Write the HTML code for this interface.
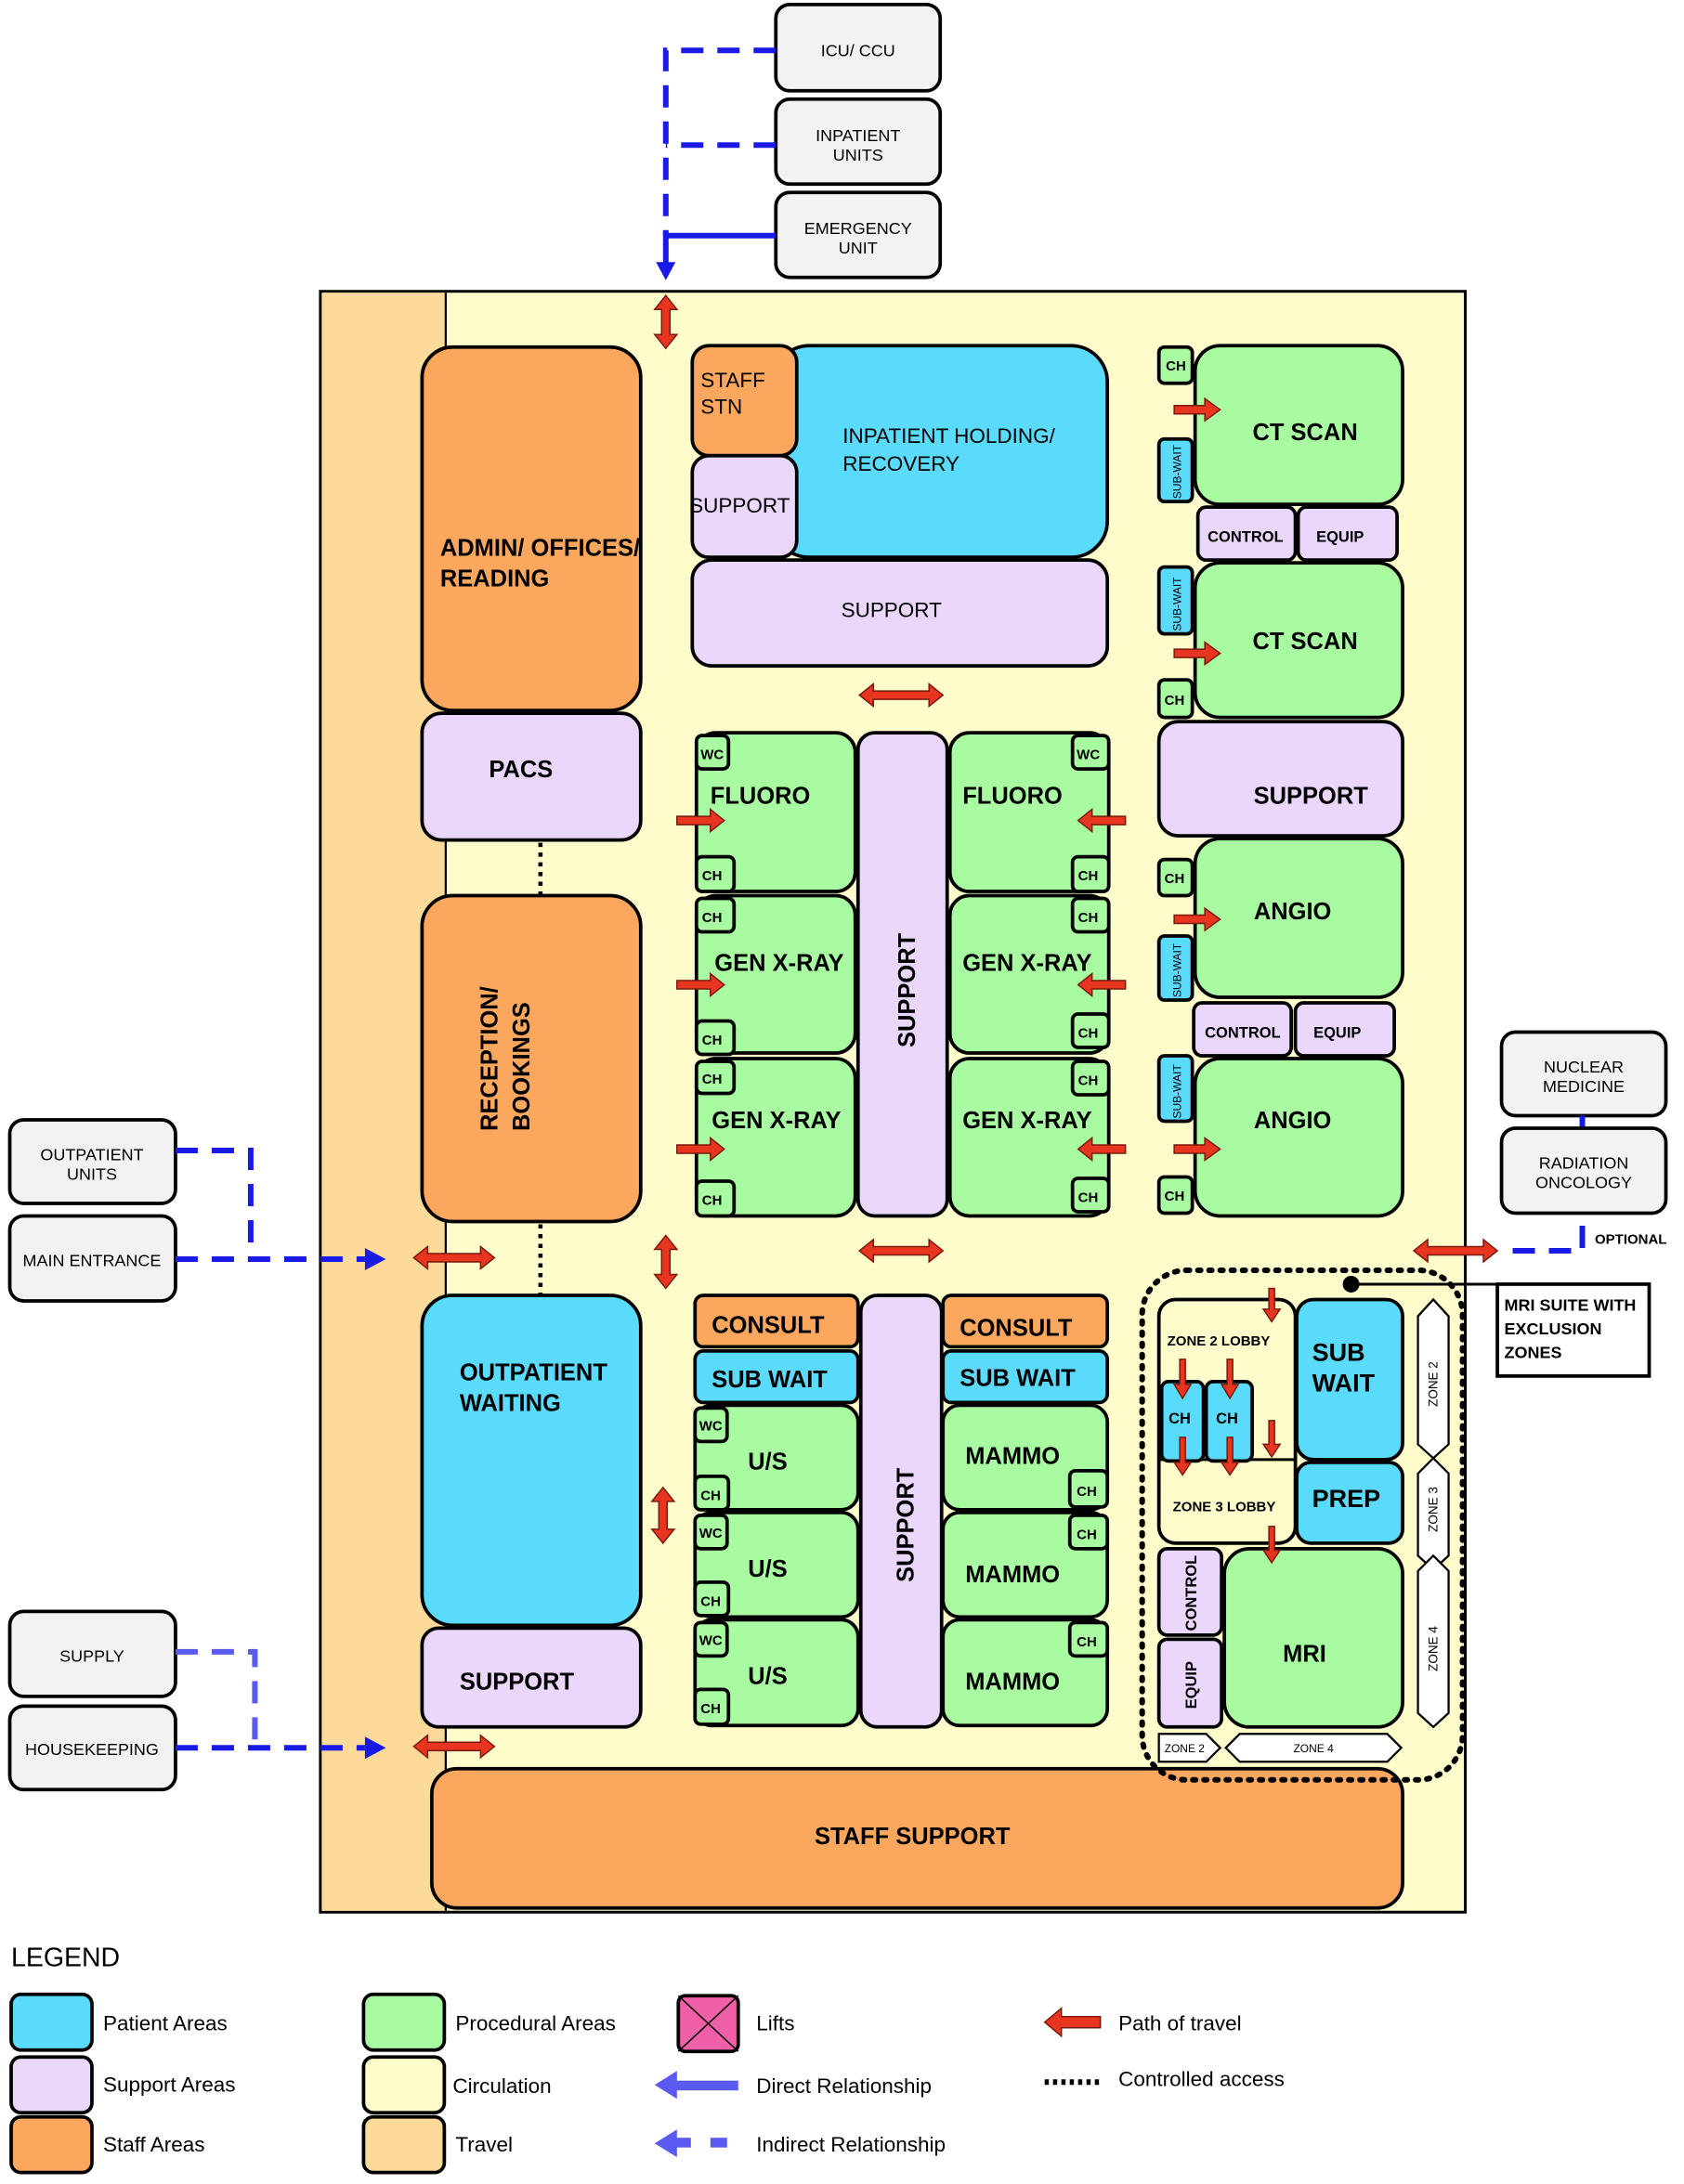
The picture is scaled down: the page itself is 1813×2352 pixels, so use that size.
<!DOCTYPE html>
<html><head><meta charset="utf-8"><style>
html,body{margin:0;padding:0;background:#fff}
svg{display:block}
text{font-family:"Liberation Sans",sans-serif;fill:#000}
.b{font-weight:bold}
.o{fill:#fba85e;stroke:#000;stroke-width:2.5}
.p{fill:#5bdbfb;stroke:#000;stroke-width:2.5}
.s{fill:#ead7fb;stroke:#000;stroke-width:2.5}
.g{fill:#a9fba2;stroke:#000;stroke-width:2.5}
.c{fill:#fefccb;stroke:#000;stroke-width:2.5}
.t{fill:#fcda9a;stroke:#000;stroke-width:2.5}
.e{fill:#f2f2f2;stroke:#000;stroke-width:2.5}
.w{fill:#fff;stroke:#000;stroke-width:1.5}
.r{fill:#e8351f;stroke:#7a1a0c;stroke-width:1}
.bl{stroke:#1a1ae6;stroke-width:4;fill:none}
.da{stroke-dasharray:16 10}
</style></head><body>
<svg width="1813" height="2352" viewBox="0 0 1209 1568" xmlns="http://www.w3.org/2000/svg">
<!-- top external -->
<rect class="e" x="557" y="3" width="118" height="62" rx="10"/>
<text x="616" y="40" font-size="12" text-anchor="middle">ICU/ CCU</text>
<rect class="e" x="557" y="71" width="118" height="61" rx="10"/>
<text x="616" y="101" font-size="12" text-anchor="middle">INPATIENT</text><text x="616" y="115" font-size="12" text-anchor="middle">UNITS</text>
<rect class="e" x="557" y="138" width="118" height="61" rx="10"/>
<text x="616" y="168" font-size="12" text-anchor="middle">EMERGENCY</text><text x="616" y="182" font-size="12" text-anchor="middle">UNIT</text>
<path class="bl da" d="M557 36 H478 V169"/>
<path class="bl da" d="M557 104 H478"/>
<path class="bl" d="M557 169 H478 V190"/>
<polygon points="471,188 485,188 478,201" fill="#1a1ae6"/>

<!-- frame -->
<rect x="230" y="209" width="822" height="1164" fill="#fefccb" stroke="#000" stroke-width="2"/>
<rect x="231" y="210" width="89" height="1162" fill="#fcda9a"/>
<line x1="320" y1="210" x2="320" y2="1372" stroke="#000" stroke-width="1.5"/>

<!-- left column -->
<rect class="o" x="303" y="249" width="157" height="261" rx="22"/>
<text class="b" x="316" y="399" font-size="17">ADMIN/ OFFICES/</text><text class="b" x="316" y="421" font-size="17">READING</text>
<rect class="s" x="303" y="512" width="157" height="91" rx="14"/>
<text class="b" x="374" y="558" font-size="17" text-anchor="middle">PACS</text>
<line x1="388" y1="605" x2="388" y2="643" stroke="#000" stroke-width="3" stroke-dasharray="3 4"/>
<rect class="o" x="303" y="643" width="157" height="234" rx="22"/>
<text class="b" font-size="17" transform="translate(357,812) rotate(-90)">RECEPTION/</text>
<text class="b" font-size="17" transform="translate(380,812) rotate(-90)">BOOKINGS</text>
<line x1="388" y1="879" x2="388" y2="930" stroke="#000" stroke-width="3" stroke-dasharray="3 4"/>
<rect class="p" x="303" y="930" width="157" height="237" rx="22"/>
<text class="b" x="330" y="991" font-size="17">OUTPATIENT</text><text class="b" x="330" y="1013" font-size="17">WAITING</text>
<rect class="s" x="303" y="1169" width="157" height="71" rx="12"/>
<text class="b" x="330" y="1213" font-size="17">SUPPORT</text>
<rect class="o" x="310" y="1270" width="697" height="100" rx="18"/>
<text class="b" x="655" y="1324" font-size="17" text-anchor="middle">STAFF SUPPORT</text>

<!-- inpatient holding -->
<rect class="p" x="555" y="248" width="240" height="152" rx="26"/>
<text x="605" y="318" font-size="15">INPATIENT HOLDING/</text><text x="605" y="338" font-size="15">RECOVERY</text>
<rect class="o" x="497" y="248" width="75" height="79" rx="12"/>
<text x="503" y="278" font-size="15">STAFF</text><text x="503" y="297" font-size="15">STN</text>
<rect class="s" x="497" y="327" width="75" height="73" rx="12"/>
<text x="531" y="368" font-size="15" text-anchor="middle">SUPPORT</text>
<rect class="s" x="497" y="402" width="298" height="76" rx="14"/>
<text x="640" y="443" font-size="15" text-anchor="middle">SUPPORT</text>

<!-- middle procedural -->
<rect class="s" x="616" y="526" width="64" height="347" rx="12"/>
<text class="b" font-size="17" transform="translate(657,752) rotate(-90)">SUPPORT</text>
<rect class="g" x="500" y="526" width="114" height="114" rx="14"/><text class="b" x="510" y="577" font-size="17">FLUORO</text>
<rect class="g" x="500" y="643" width="114" height="113" rx="14"/><text class="b" x="513" y="697" font-size="17">GEN X-RAY</text>
<rect class="g" x="500" y="760" width="114" height="113" rx="14"/><text class="b" x="511" y="810" font-size="17">GEN X-RAY</text>
<rect class="g" x="682" y="526" width="114" height="114" rx="14"/><text class="b" x="691" y="577" font-size="17">FLUORO</text>
<rect class="g" x="682" y="643" width="114" height="113" rx="14"/><text class="b" x="691" y="697" font-size="17">GEN X-RAY</text>
<rect class="g" x="682" y="760" width="114" height="113" rx="14"/><text class="b" x="691" y="810" font-size="17">GEN X-RAY</text>
<g font-size="10" class="b">
<rect class="g" x="500" y="528" width="23" height="24" rx="4"/><text x="503" y="545" font-size="10">WC</text>
<rect class="g" x="500" y="615" width="27" height="25" rx="4"/><text x="504" y="632" font-size="10">CH</text>
<rect class="g" x="500" y="645" width="27" height="24" rx="4"/><text x="504" y="662" font-size="10">CH</text>
<rect class="g" x="500" y="733" width="27" height="24" rx="4"/><text x="504" y="750" font-size="10">CH</text>
<rect class="g" x="500" y="762" width="27" height="23" rx="4"/><text x="504" y="778" font-size="10">CH</text>
<rect class="g" x="500" y="848" width="27" height="25" rx="4"/><text x="504" y="865" font-size="10">CH</text>
<rect class="g" x="770" y="528" width="26" height="24" rx="4"/><text x="773" y="545" font-size="10">WC</text>
<rect class="g" x="770" y="615" width="26" height="25" rx="4"/><text x="774" y="632" font-size="10">CH</text>
<rect class="g" x="770" y="645" width="26" height="24" rx="4"/><text x="774" y="662" font-size="10">CH</text>
<rect class="g" x="770" y="728" width="26" height="24" rx="4"/><text x="774" y="745" font-size="10">CH</text>
<rect class="g" x="770" y="762" width="26" height="24" rx="4"/><text x="774" y="779" font-size="10">CH</text>
<rect class="g" x="770" y="846" width="26" height="24" rx="4"/><text x="774" y="863" font-size="10">CH</text>
</g>

<!-- bottom middle -->
<rect class="s" x="618" y="930" width="58" height="310" rx="12"/>
<text class="b" font-size="17" transform="translate(656,1136) rotate(-90)">SUPPORT</text>
<rect class="o" x="499" y="930" width="117" height="37" rx="6"/><text class="b" x="511" y="957" font-size="17">CONSULT</text>
<rect class="p" x="499" y="970" width="117" height="37" rx="6"/><text class="b" x="511" y="996" font-size="17">SUB WAIT</text>
<rect class="o" x="677" y="930" width="118" height="37" rx="6"/><text class="b" x="689" y="959" font-size="17">CONSULT</text>
<rect class="p" x="677" y="970" width="118" height="37" rx="6"/><text class="b" x="689" y="995" font-size="17">SUB WAIT</text>
<rect class="g" x="499" y="1009" width="117" height="75" rx="12"/><text class="b" x="537" y="1055" font-size="17">U/S</text>
<rect class="g" x="499" y="1086" width="117" height="75" rx="12"/><text class="b" x="537" y="1132" font-size="17">U/S</text>
<rect class="g" x="499" y="1163" width="117" height="76" rx="12"/><text class="b" x="537" y="1209" font-size="17">U/S</text>
<rect class="g" x="677" y="1009" width="118" height="75" rx="12"/><text class="b" x="693" y="1051" font-size="17">MAMMO</text>
<rect class="g" x="677" y="1086" width="118" height="75" rx="12"/><text class="b" x="693" y="1136" font-size="17">MAMMO</text>
<rect class="g" x="677" y="1163" width="118" height="76" rx="12"/><text class="b" x="693" y="1213" font-size="17">MAMMO</text>
<g class="b">
<rect class="g" x="499" y="1011" width="23" height="24" rx="4"/><text x="502" y="1027" font-size="10">WC</text>
<rect class="g" x="499" y="1060" width="24" height="24" rx="4"/><text x="503" y="1077" font-size="10">CH</text>
<rect class="g" x="499" y="1088" width="23" height="24" rx="4"/><text x="502" y="1104" font-size="10">WC</text>
<rect class="g" x="499" y="1136" width="24" height="24" rx="4"/><text x="503" y="1153" font-size="10">CH</text>
<rect class="g" x="499" y="1165" width="23" height="24" rx="4"/><text x="502" y="1181" font-size="10">WC</text>
<rect class="g" x="499" y="1213" width="24" height="25" rx="4"/><text x="503" y="1230" font-size="10">CH</text>
<rect class="g" x="768" y="1056" width="27" height="26" rx="4"/><text x="773" y="1074" font-size="10">CH</text>
<rect class="g" x="768" y="1088" width="27" height="24" rx="4"/><text x="773" y="1105" font-size="10">CH</text>
<rect class="g" x="768" y="1165" width="27" height="24" rx="4"/><text x="773" y="1182" font-size="10">CH</text>
</g>

<!-- right column -->
<rect class="g" x="858" y="248" width="149" height="114" rx="18"/><text class="b" x="937" y="316" font-size="17" text-anchor="middle">CT SCAN</text>
<rect class="g" x="832" y="249" width="24" height="26" rx="4"/><text class="b" x="837" y="266" font-size="10">CH</text>
<rect class="p" x="832" y="315" width="24" height="45" rx="4"/><text font-size="8" transform="translate(848,358) rotate(-90)">SUB-WAIT</text>
<rect class="s" x="860" y="364" width="70" height="38" rx="6"/><text class="b" x="867" y="389" font-size="11">CONTROL</text>
<rect class="s" x="932" y="364" width="71" height="38" rx="6"/><text class="b" x="945" y="389" font-size="11">EQUIP</text>
<rect class="g" x="858" y="404" width="149" height="111" rx="18"/><text class="b" x="937" y="466" font-size="17" text-anchor="middle">CT SCAN</text>
<rect class="p" x="832" y="407" width="24" height="48" rx="4"/><text font-size="8" transform="translate(848,453) rotate(-90)">SUB-WAIT</text>
<rect class="g" x="832" y="488" width="24" height="27" rx="4"/><text class="b" x="836" y="506" font-size="10">CH</text>
<rect class="s" x="832" y="518" width="175" height="82" rx="14"/><text class="b" x="900" y="577" font-size="17">SUPPORT</text>
<rect class="g" x="858" y="602" width="149" height="114" rx="18"/><text class="b" x="928" y="660" font-size="17" text-anchor="middle">ANGIO</text>
<rect class="g" x="832" y="617" width="24" height="26" rx="4"/><text class="b" x="836" y="634" font-size="10">CH</text>
<rect class="p" x="832" y="672" width="24" height="46" rx="4"/><text font-size="8" transform="translate(848,716) rotate(-90)">SUB-WAIT</text>
<rect class="s" x="857" y="720" width="70" height="38" rx="6"/><text class="b" x="865" y="745" font-size="11">CONTROL</text>
<rect class="s" x="930" y="720" width="71" height="38" rx="6"/><text class="b" x="943" y="745" font-size="11">EQUIP</text>
<rect class="g" x="858" y="760" width="149" height="113" rx="18"/><text class="b" x="928" y="810" font-size="17" text-anchor="middle">ANGIO</text>
<rect class="p" x="832" y="758" width="24" height="47" rx="4"/><text font-size="8" transform="translate(848,803) rotate(-90)">SUB-WAIT</text>
<rect class="g" x="832" y="845" width="24" height="26" rx="4"/><text class="b" x="836" y="862" font-size="10">CH</text>

<!-- right external -->
<rect class="e" x="1078" y="741" width="118" height="60" rx="10"/>
<text x="1137" y="770" font-size="12" text-anchor="middle">NUCLEAR</text><text x="1137" y="784" font-size="12" text-anchor="middle">MEDICINE</text>
<line x1="1136" y1="801" x2="1136" y2="810" stroke="#1a1ae6" stroke-width="4"/>
<rect class="e" x="1078" y="810" width="118" height="61" rx="10"/>
<text x="1137" y="839" font-size="12" text-anchor="middle">RADIATION</text><text x="1137" y="853" font-size="12" text-anchor="middle">ONCOLOGY</text>
<path class="bl da" d="M1136 880 V898 H1076" stroke-dasharray="14 10"/>
<text class="b" x="1145" y="893" font-size="10">OPTIONAL</text>

<!-- MRI suite -->
<rect x="820" y="912" width="230" height="366" rx="32" fill="none" stroke="#000" stroke-width="4" stroke-dasharray="2 6" stroke-linecap="round"/>
<rect class="c" x="832" y="933" width="98" height="175" rx="12"/>
<line x1="832" y1="1048" x2="930" y2="1048" stroke="#000" stroke-width="2"/>
<text class="b" x="838" y="966" font-size="10">ZONE 2 LOBBY</text>
<text class="b" x="842" y="1085" font-size="10">ZONE 3 LOBBY</text>
<rect class="p" x="834" y="992" width="30" height="57" rx="5"/><text class="b" x="839" y="1022" font-size="11">CH</text>
<rect class="p" x="866" y="992" width="33" height="57" rx="5"/><text class="b" x="873" y="1022" font-size="11">CH</text>
<rect class="p" x="931" y="933" width="76" height="115" rx="12"/><text class="b" x="942" y="977" font-size="18">SUB</text><text class="b" x="942" y="999" font-size="18">WAIT</text>
<rect class="p" x="931" y="1050" width="76" height="58" rx="10"/><text class="b" x="942" y="1082" font-size="18">PREP</text>
<rect class="s" x="832" y="1112" width="45" height="62" rx="6"/><text class="b" font-size="11" transform="translate(859,1171) rotate(-90)">CONTROL</text>
<rect class="s" x="832" y="1177" width="45" height="63" rx="6"/><text class="b" font-size="11" transform="translate(859,1227) rotate(-90)">EQUIP</text>
<rect class="g" x="879" y="1112" width="128" height="128" rx="18"/><text class="b" x="921" y="1193" font-size="17">MRI</text>
<polygon class="w" points="1018,945 1029,933 1040,945 1040,1037 1029,1047 1018,1037"/>
<text font-size="9" transform="translate(1032,1010) rotate(-90)">ZONE 2</text>
<polygon class="w" points="1018,1058 1029,1047 1040,1058 1040,1117 1029,1127 1018,1117"/>
<text font-size="9" transform="translate(1032,1100) rotate(-90)">ZONE 3</text>
<polygon class="w" points="1018,1128 1029,1117 1040,1128 1040,1230 1029,1240 1018,1230"/>
<text font-size="9" transform="translate(1032,1200) rotate(-90)">ZONE 4</text>
<polygon class="w" points="832,1245 866,1245 876,1255 866,1265 832,1265"/>
<text x="836" y="1258" font-size="8" fill="#444">ZONE 2</text>
<polygon class="w" points="880,1255 890,1245 996,1245 1006,1255 996,1265 890,1265"/>
<text x="943" y="1258" font-size="8" text-anchor="middle" fill="#444">ZONE 4</text>
<circle cx="970" cy="922" r="6" fill="#000"/>
<line x1="970" y1="922" x2="1076" y2="922" stroke="#000" stroke-width="2"/>
<rect x="1075" y="922" width="109" height="66" fill="#fff" stroke="#000" stroke-width="2.5"/>
<text class="b" x="1080" y="941" font-size="12">MRI SUITE WITH</text><text class="b" x="1080" y="958" font-size="12">EXCLUSION</text><text class="b" x="1080" y="975" font-size="12">ZONES</text>

<!-- red arrows -->
<g class="r">
<polygon points="478,212 486,222 481,222 481,240 486,240 478,250 470,240 475,240 475,222 470,222"/>
<polygon points="478,887 486,897 481,897 481,915 486,915 478,925 470,915 475,915 475,897 470,897"/>
<polygon points="476,1068 484,1078 479,1078 479,1098 484,1098 476,1108 468,1098 473,1098 473,1078 468,1078"/>
<polygon points="617,499 627,491 627,496 667,496 667,491 677,499 667,507 667,502 627,502 627,507"/>
<polygon points="617,898 627,890 627,895 667,895 667,890 677,898 667,906 667,901 627,901 627,906"/>
<polygon points="297,903 307,895 307,900 345,900 345,895 355,903 345,911 345,906 307,906 307,911"/>
<polygon points="297,1254 307,1246 307,1251 345,1251 345,1246 355,1254 345,1262 345,1257 307,1257 307,1262"/>
<polygon points="1015,898 1025,890 1025,895 1065,895 1065,890 1075,898 1065,906 1065,901 1025,901 1025,906"/>
<polygon points="486,586 510,586 510,581 520,589 510,597 510,592 486,592"/>
<polygon points="486,704 510,704 510,699 520,707 510,715 510,710 486,710"/>
<polygon points="486,822 510,822 510,817 520,825 510,833 510,828 486,828"/>
<polygon points="808,586 784,586 784,581 774,589 784,597 784,592 808,592"/>
<polygon points="808,704 784,704 784,699 774,707 784,715 784,710 808,710"/>
<polygon points="808,822 784,822 784,817 774,825 784,833 784,828 808,828"/>
<polygon points="843,291 865,291 865,286 876,294 865,302 865,297 843,297"/>
<polygon points="843,466 865,466 865,461 876,469 865,477 865,472 843,472"/>
<polygon points="843,657 865,657 865,652 876,660 865,668 865,663 843,663"/>
<polygon points="843,822 865,822 865,817 876,825 865,833 865,828 843,828"/>
<polygon points="911,925 915,925 915,940 919,940 913,949 907,940 911,940"/>
<polygon points="847,976 851,976 851,994 855,994 849,1004 843,994 847,994"/>
<polygon points="881,976 885,976 885,994 889,994 883,1004 877,994 881,994"/>
<polygon points="847,1032 851,1032 851,1050 855,1050 849,1059 843,1050 847,1050"/>
<polygon points="881,1032 885,1032 885,1050 889,1050 883,1059 877,1050 881,1050"/>
<polygon points="911,1020 915,1020 915,1037 919,1037 913,1046 907,1037 911,1037"/>
<polygon points="911,1096 915,1096 915,1113 919,1113 913,1122 907,1113 911,1113"/>
</g>

<!-- left external -->
<rect class="e" x="7" y="804" width="119" height="60" rx="10"/>
<text x="66" y="833" font-size="12" text-anchor="middle">OUTPATIENT</text><text x="66" y="847" font-size="12" text-anchor="middle">UNITS</text>
<rect class="e" x="7" y="873" width="119" height="61" rx="10"/>
<text x="66" y="909" font-size="12" text-anchor="middle">MAIN ENTRANCE</text>
<path class="bl da" d="M126 826 H180 V904"/>
<path class="bl da" d="M126 904 H262"/>
<polygon points="262,896 277,904 262,912" fill="#1a1ae6"/>
<rect class="e" x="7" y="1157" width="119" height="61" rx="10"/>
<text x="66" y="1193" font-size="12" text-anchor="middle">SUPPLY</text>
<rect class="e" x="7" y="1225" width="119" height="60" rx="10"/>
<text x="66" y="1260" font-size="12" text-anchor="middle">HOUSEKEEPING</text>
<path d="M126 1186 H183 V1255" stroke="#5a5af0" stroke-width="4" fill="none" stroke-dasharray="16 10"/>
<path class="bl da" d="M126 1255 H262"/>
<polygon points="262,1247 277,1255 262,1263" fill="#1a1ae6"/>

<!-- legend -->
<text x="8" y="1412" font-size="19">LEGEND</text>
<rect class="p" x="8" y="1432" width="58" height="40" rx="7"/><text x="74" y="1458" font-size="15">Patient Areas</text>
<rect class="s" x="8" y="1477" width="58" height="40" rx="7"/><text x="74" y="1502" font-size="15">Support Areas</text>
<rect class="o" x="8" y="1520" width="58" height="40" rx="7"/><text x="74" y="1545" font-size="15">Staff Areas</text>
<rect class="g" x="261" y="1432" width="58" height="40" rx="7"/><text x="327" y="1458" font-size="15">Procedural Areas</text>
<rect class="c" x="261" y="1477" width="58" height="40" rx="7"/><text x="325" y="1503" font-size="15">Circulation</text>
<rect class="t" x="261" y="1520" width="58" height="40" rx="7"/><text x="327" y="1545" font-size="15">Travel</text>
<rect x="487" y="1433" width="43" height="40" rx="5" fill="#f060a8" stroke="#000" stroke-width="2.5"/>
<path d="M487 1433 L530 1473 M530 1433 L487 1473" stroke="#000" stroke-width="1"/>
<text x="543" y="1458" font-size="15">Lifts</text>
<rect x="485" y="1494" width="45" height="7" fill="#5a5af0"/><polygon points="470,1497 486,1487 486,1507" fill="#5a5af0"/>
<text x="543" y="1503" font-size="15">Direct Relationship</text>
<rect x="484" y="1535" width="12" height="7" fill="#5a5af0"/><rect x="510" y="1535" width="12" height="7" fill="#5a5af0"/><polygon points="470,1539 486,1529 486,1549" fill="#5a5af0"/>
<text x="543" y="1545" font-size="15">Indirect Relationship</text>
<polygon class="r" points="790,1448 762,1448 762,1442 750,1452 762,1462 762,1456 790,1456" stroke="#000"/>
<text x="803" y="1458" font-size="15">Path of travel</text>
<line x1="750" y1="1495" x2="790" y2="1495" stroke="#000" stroke-width="4" stroke-dasharray="3 3"/>
<text x="803" y="1498" font-size="15">Controlled access</text>
</svg>
</body></html>
